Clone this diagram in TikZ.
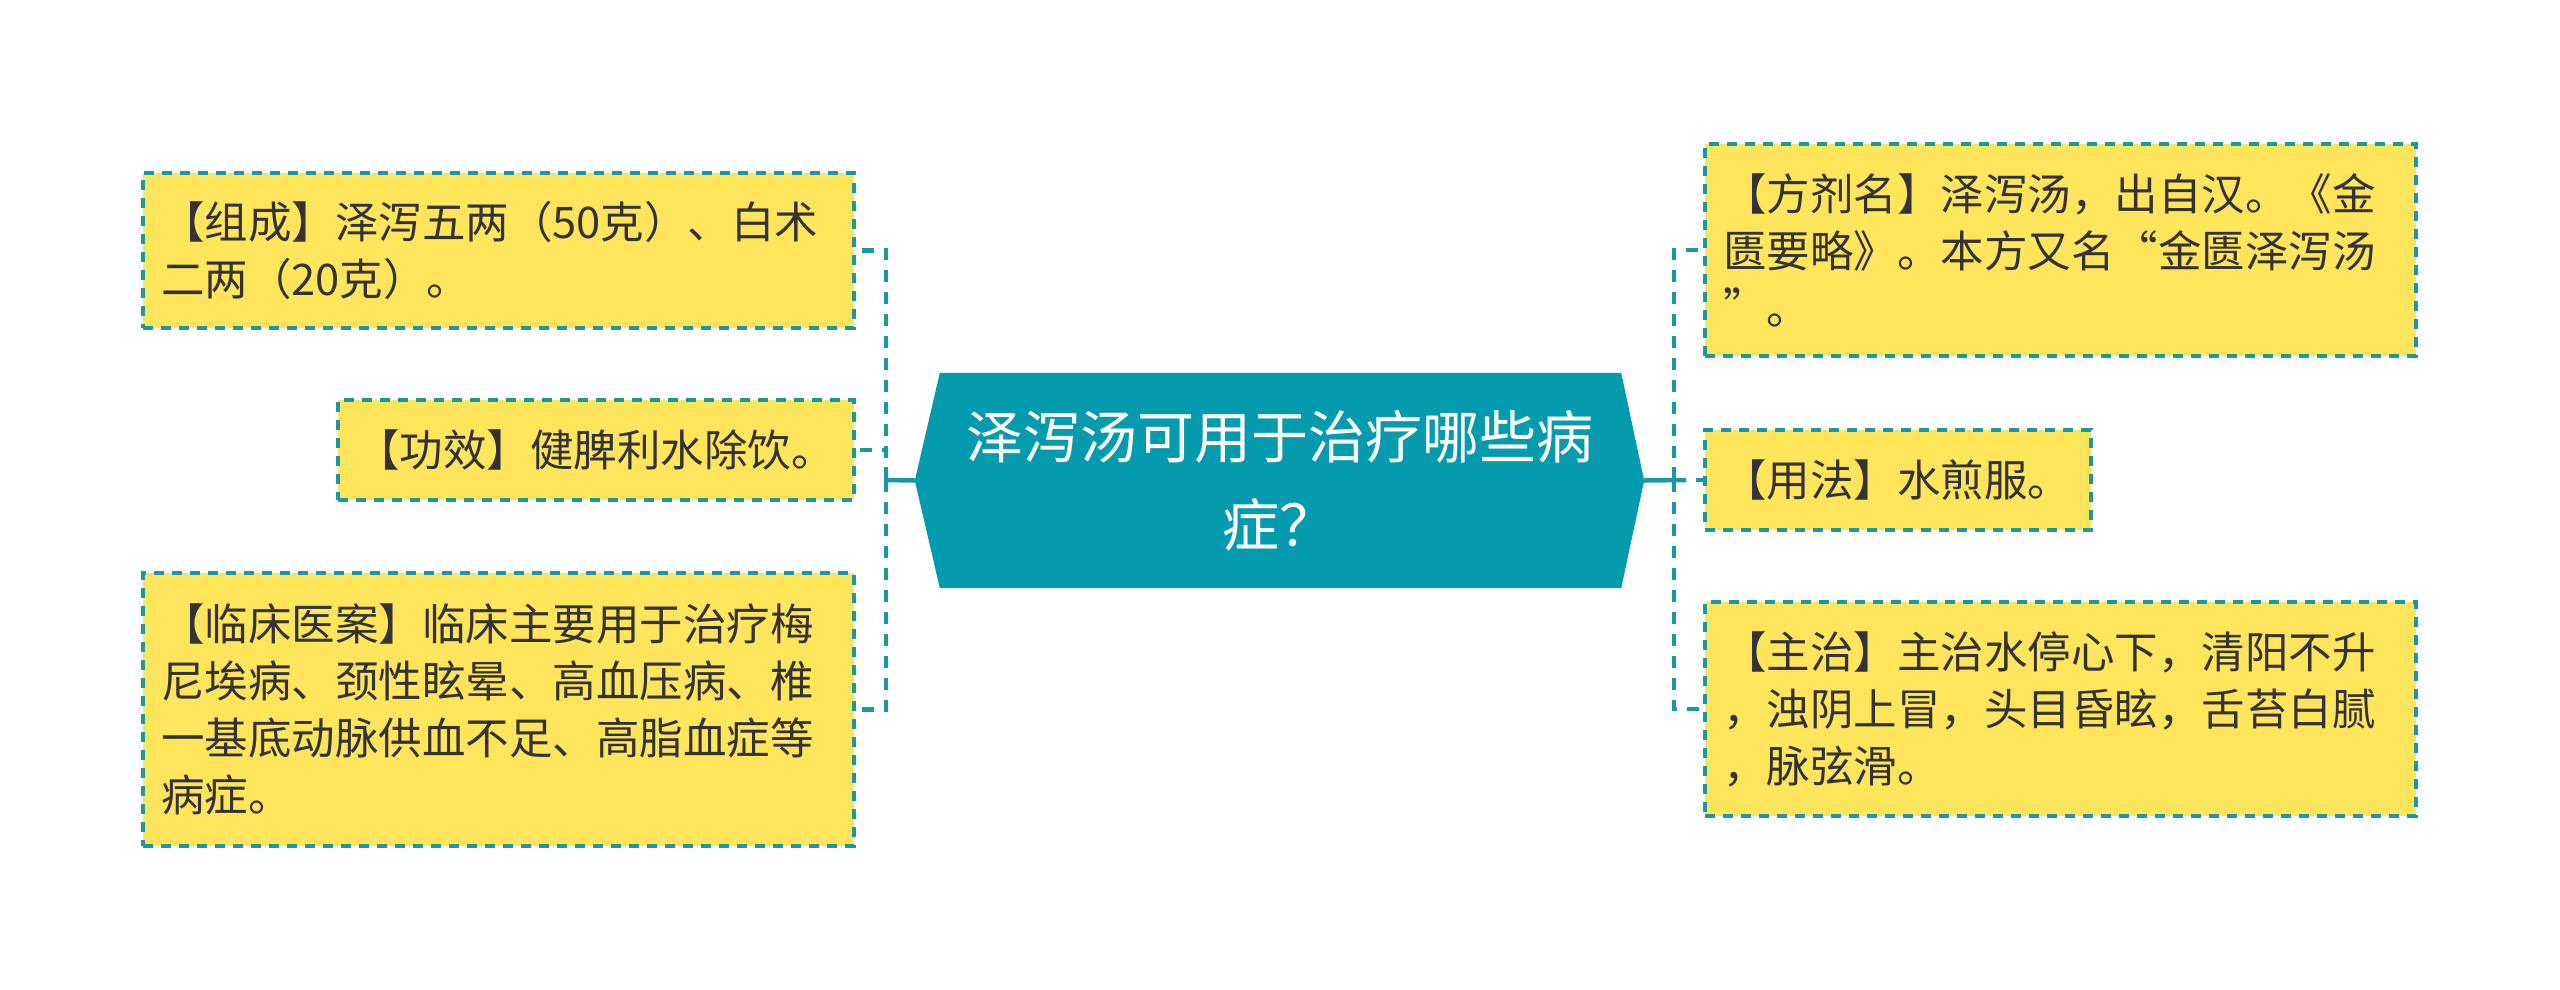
\documentclass[tikz,border=0pt]{standalone}
\usepackage{fontspec}
\setmainfont{Noto Sans CJK SC}
\usetikzlibrary{calc,backgrounds}
\definecolor{centerteal}{RGB}{4,155,174}
\definecolor{lineteal}{RGB}{24,152,166}
\definecolor{boxyellow}{RGB}{255,229,92}
\definecolor{txtgray}{RGB}{51,51,51}
\tikzset{
  bx/.style={draw=lineteal, fill=boxyellow, line width=3.6pt, dash pattern=on 10pt off 8pt,
    text=txtgray, align=left, inner xsep=18pt, inner ysep=0pt,
    font=\fontsize{43.5}{57}\selectfont},
  connsolid/.style={draw=lineteal, line width=4.5pt},
  conndash/.style={draw=lineteal, line width=4.5pt, dash pattern=on 12pt off 10pt},
}
\begin{document}
\begin{tikzpicture}[x=1pt, y=-1pt]
\useasboundingbox (0,0) rectangle (2560,989);
% central node
\node[minimum width=729pt, minimum height=215pt, inner sep=0pt, align=center, text=white,
  font=\fontsize{57}{88}\selectfont] (c) at (1279.5,480.5) {泽泻汤可用于治疗哪些病\\症？};
\begin{pgfonlayer}{background}
\fill[centerteal] ($(c.north west)+(25,0)$) -- ($(c.north east)+(-23,0)$) -- (c.east)
  -- ($(c.south east)+(-23,0)$) -- ($(c.south west)+(25,0)$) -- (c.west) -- cycle;
\end{pgfonlayer}
% left boxes
\node[bx, text width=675pt, minimum height=155pt] (b1) at (498.5,250.5) {【组成】泽泻五两（50克）、白术\\二两（20克）。};
\node[bx, text width=480pt, minimum height=100pt] (b2) at (596,450) {【功效】健脾利水除饮。};
\node[bx, text width=675pt, minimum height=273pt] (b3) at (498.5,709.5) {【临床医案】临床主要用于治疗梅\\尼埃病、颈性眩晕、高血压病、椎\\一基底动脉供血不足、高脂血症等\\病症。};
% right boxes
\node[bx, text width=675pt, minimum height=212pt] (b4) at (2060.5,250) {【方剂名】泽泻汤，出自汉。《金\\匮要略》。本方又名“金匮泽泻汤\\”。};
\node[bx, text width=350pt, minimum height=100pt] (b5) at (1898,480) {【用法】水煎服。};
\node[bx, text width=675pt, minimum height=214pt] (b6) at (2060.5,709) {【主治】主治水停心下，清阳不升\\，浊阴上冒，头目昏眩，舌苔白腻\\，脉弦滑。};
% junctions
\coordinate (jl) at (886,480);
\coordinate (jr) at (1674,480);
\coordinate (jre) at (1686,480);
\coordinate (jlt) at (886,467);
\coordinate (jlb) at (886,492);
\coordinate (jrt) at (1674,467);
\coordinate (jrb) at (1674,492);
% left connectors
\draw[conndash] (jl) |- (b1.east);
\draw[conndash] (jl) |- (b2.east);
\draw[conndash] (jl) |- (b3.east);
\draw[connsolid] (c.west) -- (jl);
\draw[connsolid] (jlt) -- (jlb);
% right connectors
\draw[conndash] (jr) |- (b4.west);
\draw[conndash] (jr) -- (b5.west);
\draw[conndash] (jr) |- (b6.west);
\draw[connsolid] (c.east) -- (jre);
\draw[connsolid] (jrt) -- (jrb);
\end{tikzpicture}
\end{document}
